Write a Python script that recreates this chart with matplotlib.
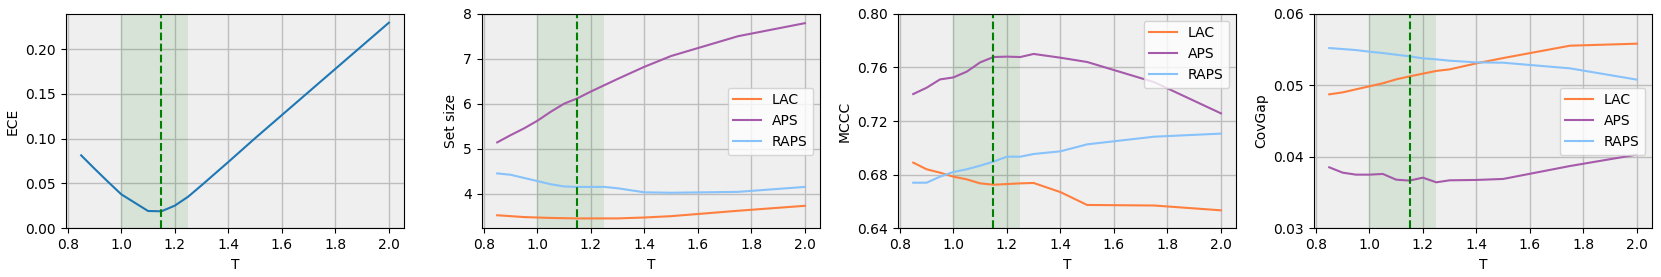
import matplotlib
matplotlib.use('Agg')
import matplotlib.pyplot as plt

# temperature grid
T = [0.85, 0.9, 0.95, 1.0, 1.05, 1.1, 1.15, 1.2, 1.25, 1.3, 1.4, 1.5, 1.75, 2.0]

ece = [0.0814, 0.0665, 0.052, 0.0379, 0.0286, 0.0193, 0.019, 0.0253, 0.0353,
       0.048, 0.074, 0.1005, 0.165, 0.2294]

setsize_lac = [3.52, 3.50, 3.48, 3.47, 3.46, 3.455, 3.45, 3.45, 3.45, 3.45, 3.47, 3.50, 3.62, 3.73]
setsize_aps = [5.14, 5.30, 5.45, 5.62, 5.82, 6.00, 6.12, 6.27, 6.41, 6.55, 6.82, 7.06, 7.50, 7.79]
setsize_raps = [4.45, 4.42, 4.35, 4.28, 4.21, 4.16, 4.15, 4.15, 4.15, 4.12, 4.03, 4.02, 4.04, 4.15]

mccc_lac = [0.689, 0.684, 0.6815, 0.6785, 0.6765, 0.6735, 0.6725, 0.673, 0.6735,
            0.6738, 0.667, 0.6574, 0.657, 0.6534]
mccc_aps = [0.7401, 0.7448, 0.751, 0.7525, 0.7568, 0.7637, 0.7677, 0.768, 0.7677,
            0.770, 0.7672, 0.764, 0.749, 0.7257]
mccc_raps = [0.674, 0.674, 0.6785, 0.682, 0.684, 0.6867, 0.6897, 0.6934, 0.6934,
             0.6954, 0.6974, 0.7026, 0.7083, 0.7106]

covgap_lac = [0.04873, 0.0490, 0.04943, 0.04985, 0.05027, 0.05082, 0.05124, 0.05162,
              0.0520, 0.05222, 0.05306, 0.0538, 0.05553, 0.05581]
covgap_aps = [0.03853, 0.03778, 0.0375, 0.0375, 0.0376, 0.0368, 0.03667, 0.03708,
              0.03643, 0.03671, 0.03676, 0.0369, 0.03871, 0.0403]
covgap_raps = [0.0552, 0.05506, 0.05492, 0.05469, 0.0545, 0.05427, 0.05404, 0.05376,
               0.05362, 0.05343, 0.0532, 0.05315, 0.05236, 0.05078]

method_names = ['LAC', 'APS', 'RAPS']
method_colors = ['#ff7f3f', '#a55aaa', '#87c2fa']

best_T = 1.15
span = (1.0, 1.25)

plt.rcParams['font.size'] = 10

fig, axes = plt.subplots(1, 4, figsize=(16.61, 2.77), dpi=100)
fig.subplots_adjust(left=0.0396, right=0.9948, top=0.9505, bottom=0.1758, wspace=0.229)


def decorate(ax, ylabel):
    ax.set_facecolor('#efefef')
    ax.grid(True, color='#bdbdbd', linewidth=1.0)
    ax.set_axisbelow(True)
    ax.axvspan(span[0], span[1], color='green', alpha=0.1, lw=0)
    ax.axvline(best_T, color='green', linestyle='--', linewidth=1.5)
    ax.set_xlabel('T')
    ax.set_ylabel(ylabel)
    ax.set_xticks([0.8, 1.0, 1.2, 1.4, 1.6, 1.8, 2.0])


# ECE
ax = axes[0]
ax.plot(T, ece, color='#1f77b4', linewidth=1.5)
decorate(ax, 'ECE')
ax.set_ylim(0, 0.2394)
ax.set_yticks([0.0, 0.05, 0.10, 0.15, 0.20])

# Set size
ax = axes[1]
for vals, name, c in zip([setsize_lac, setsize_aps, setsize_raps], method_names, method_colors):
    ax.plot(T, vals, color=c, linewidth=1.5, label=name)
decorate(ax, 'Set size')
ax.set_ylim(3.23, 8.0)
ax.set_yticks([4, 5, 6, 7, 8])
ax.legend(loc='center right')

# MCCC
ax = axes[2]
for vals, name, c in zip([mccc_lac, mccc_aps, mccc_raps], method_names, method_colors):
    ax.plot(T, vals, color=c, linewidth=1.5, label=name)
decorate(ax, 'MCCC')
ax.set_ylim(0.64, 0.80)
ax.set_yticks([0.64, 0.68, 0.72, 0.76, 0.80])
ax.legend(loc='upper right')

# CovGap
ax = axes[3]
for vals, name, c in zip([covgap_lac, covgap_aps, covgap_raps], method_names, method_colors):
    ax.plot(T, vals, color=c, linewidth=1.5, label=name)
decorate(ax, 'CovGap')
ax.set_ylim(0.03, 0.06)
ax.set_yticks([0.03, 0.04, 0.05, 0.06])
ax.legend(loc='center right')

for ax in axes:
    ax.set_xlim(0.7925, 2.0575)

fig.savefig('out.png', dpi=100)
